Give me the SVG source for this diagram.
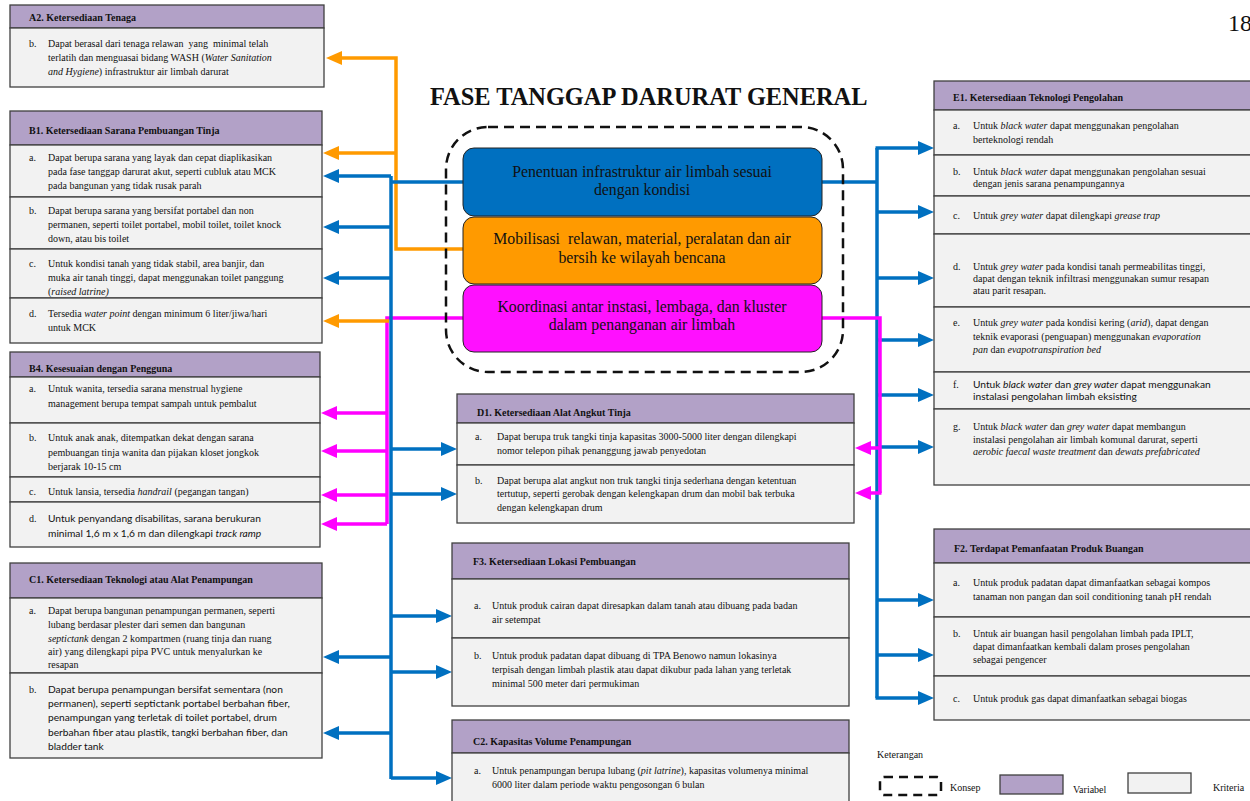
<svg xmlns="http://www.w3.org/2000/svg" width="1250" height="801" viewBox="0 0 1250 801">
<style>
.hdr{fill:#B2A1C7;stroke:#404040;stroke-width:1.3}
.crit{fill:#F2F2F2;stroke:#404040;stroke-width:1.3}
.t{font-family:"Liberation Serif",serif;font-size:10px;fill:#111}
.h{font-weight:bold}
.s{font-family:Lato,"Liberation Sans",sans-serif;font-size:10.2px}
.i{font-style:italic}
.ctr{font-family:"Liberation Serif",serif;font-size:15.8px;fill:#111;text-anchor:middle}
.cb{stroke:#0070C0;fill:none;stroke-width:3.5}
.co{stroke:#FF9A00;fill:none;stroke-width:3.5}
.cm{stroke:#FF00FF;fill:none;stroke-width:3.5}
</style>
<defs>
<marker id="ab" markerUnits="userSpaceOnUse" markerWidth="16" markerHeight="14" viewBox="0 0 16 14" refX="6" refY="7" orient="auto"><path d="M0,0 L16,7 L0,14 z" fill="#0070C0"/></marker>
<marker id="ao" markerUnits="userSpaceOnUse" markerWidth="16" markerHeight="14" viewBox="0 0 16 14" refX="6" refY="7" orient="auto"><path d="M0,0 L16,7 L0,14 z" fill="#FF9A00"/></marker>
<marker id="am" markerUnits="userSpaceOnUse" markerWidth="16" markerHeight="14" viewBox="0 0 16 14" refX="6" refY="7" orient="auto"><path d="M0,0 L16,7 L0,14 z" fill="#FF00FF"/></marker>
</defs>
<rect width="1250" height="801" fill="#fff"/>

<text x="1228" y="31" font-family="Liberation Serif,serif" font-size="24" fill="#111">18</text>
<text x="430" y="105" font-family="Liberation Serif,serif" font-size="24.4" font-weight="bold" fill="#111">FASE TANGGAP DARURAT GENERAL</text>

<g id="connectors">
<path class="cm" d="M463,318 H387 V524"/>
<path class="cm" d="M387,413 H331" marker-end="url(#am)"/>
<path class="cm" d="M387,451 H331" marker-end="url(#am)"/>
<path class="cm" d="M387,495 H331" marker-end="url(#am)"/>
<path class="cm" d="M387,524 H331" marker-end="url(#am)"/>
<path class="co" d="M463,249 H396 V58 H336" marker-end="url(#ao)"/>
<path class="co" d="M396,153 H333" marker-end="url(#ao)"/>
<path class="co" d="M389,321 H333" marker-end="url(#ao)"/>
<path class="cb" d="M463,182 H391"/>
<path class="cb" d="M391,176 V779" stroke-width="5"/>
<path class="cb" d="M391,176 H333" marker-end="url(#ab)"/>
<path class="cb" d="M391,227 H333" marker-end="url(#ab)"/>
<path class="cb" d="M391,278 H333" marker-end="url(#ab)"/>
<path class="cb" d="M391,657 H333" marker-end="url(#ab)"/>
<path class="cb" d="M391,733 H333" marker-end="url(#ab)"/>
<path class="cb" d="M391,449 H447" marker-end="url(#ab)"/>
<path class="cb" d="M391,494 H447" marker-end="url(#ab)"/>
<path class="cb" d="M391,616 H442" marker-end="url(#ab)"/>
<path class="cb" d="M391,672 H442" marker-end="url(#ab)"/>
<path class="cb" d="M391,778 H442" marker-end="url(#ab)"/>
<path class="cb" d="M822,182 H877"/>
<path class="cb" d="M877,148 V698"/>
<path class="cb" d="M875.5,148 H924" marker-end="url(#ab)"/>
<path class="cb" d="M877,212 H924" marker-end="url(#ab)"/>
<path class="cb" d="M877,278 H924" marker-end="url(#ab)"/>
<path class="cb" d="M877,340 H924" marker-end="url(#ab)"/>
<path class="cb" d="M877,395 H924" marker-end="url(#ab)"/>
<path class="cb" d="M877,447 H924" marker-end="url(#ab)"/>
<path class="cb" d="M877,600 H924" marker-end="url(#ab)"/>
<path class="cb" d="M877,655 H924" marker-end="url(#ab)"/>
<path class="cb" d="M875.5,698 H924" marker-end="url(#ab)"/>
<path class="cm" d="M822,318 H880 V493"/>
<path class="cm" d="M880,448 H865" marker-end="url(#am)"/>
<path class="cm" d="M881.5,493 H865" marker-end="url(#am)"/>
</g>

<g id="konsep">
<rect x="446" y="127" width="397" height="245" rx="42" fill="none" stroke="#111" stroke-width="2.5" stroke-dasharray="10,6"/>
</g>
<g id="n-penentuan">
<rect x="463" y="148" width="359" height="68" rx="11" fill="#0070C0" stroke="#222" stroke-width="1"/>
<text class="ctr" x="642" y="177">Penentuan infrastruktur air limbah sesuai</text>
<text class="ctr" x="642" y="195">dengan kondisi</text>
</g>
<g id="n-mobilisasi">
<rect x="463" y="217" width="359" height="67" rx="11" fill="#FF9A00" stroke="#222" stroke-width="1"/>
<text class="ctr" x="642" y="244" xml:space="preserve">Mobilisasi  relawan, material, peralatan dan air</text>
<text class="ctr" x="642" y="263">bersih ke wilayah bencana</text>
</g>
<g id="n-koordinasi">
<rect x="463" y="285" width="359" height="67" rx="11" fill="#FF10FF" stroke="#222" stroke-width="1"/>
<text class="ctr" x="642" y="312">Koordinasi antar instasi, lembaga, dan kluster</text>
<text class="ctr" x="642" y="330">dalam penanganan air limbah</text>
</g>

<g id="n-a2">
<rect class="hdr" x="10" y="5" width="314" height="23"/>
<rect class="crit" x="10" y="28" width="314" height="59"/>
<text class="t h" x="29" y="21">A2. Ketersediaan Tenaga</text>
<text class="t" x="29" y="47">b.</text>
<text class="t" x="48" y="47" xml:space="preserve">Dapat berasal dari tenaga relawan  yang  minimal telah</text>
<text class="t" x="48" y="61">terlatih dan menguasai bidang WASH (<tspan class="i">Water Sanitation</tspan></text>
<text class="t" x="48" y="75"><tspan class="i">and Hygiene</tspan>) infrastruktur air limbah darurat</text>
</g>

<g id="n-b1">
<rect class="hdr" x="10" y="111" width="312" height="34"/>
<rect class="crit" x="10" y="145" width="312" height="52"/>
<rect class="crit" x="10" y="197" width="312" height="52"/>
<rect class="crit" x="10" y="249" width="312" height="49"/>
<rect class="crit" x="10" y="298" width="312" height="45"/>
<text class="t h" x="29" y="134">B1. Ketersediaan Sarana Pembuangan Tinja</text>
<text class="t" x="29" y="161">a.</text>
<text class="t" x="48" y="161">Dapat berupa sarana yang layak dan cepat diaplikasikan</text>
<text class="t" x="48" y="175">pada fase tanggap darurat akut, seperti cubluk atau MCK</text>
<text class="t" x="48" y="189">pada bangunan yang tidak rusak parah</text>
<text class="t" x="29" y="214">b.</text>
<text class="t" x="48" y="214">Dapat berupa sarana yang bersifat portabel dan non</text>
<text class="t" x="48" y="228">permanen, seperti toilet portabel, mobil toilet, toilet knock</text>
<text class="t" x="48" y="242">down, atau bis toilet</text>
<text class="t" x="29" y="267">c.</text>
<text class="t" x="48" y="267">Untuk kondisi tanah yang tidak stabil, area banjir, dan</text>
<text class="t" x="48" y="281">muka air tanah tinggi, dapat menggunakan toilet panggung</text>
<text class="t" x="48" y="295">(<tspan class="i">raised latrine)</tspan></text>
<text class="t" x="29" y="317">d.</text>
<text class="t" x="48" y="317">Tersedia <tspan class="i">water point</tspan> dengan minimum 6 liter/jiwa/hari</text>
<text class="t" x="48" y="331">untuk MCK</text>
</g>

<g id="n-b4">
<rect class="hdr" x="10" y="352" width="310" height="25"/>
<rect class="crit" x="10" y="377" width="310" height="46"/>
<rect class="crit" x="10" y="423" width="310" height="54"/>
<rect class="crit" x="10" y="477" width="310" height="25"/>
<rect class="crit" x="10" y="502" width="310" height="45"/>
<text class="t h" x="29" y="372">B4. Kesesuaian dengan Pengguna</text>
<text class="t" x="29" y="392">a.</text>
<text class="t" x="48" y="392">Untuk wanita, tersedia sarana menstrual hygiene</text>
<text class="t" x="48" y="407">management berupa tempat sampah untuk pembalut</text>
<text class="t" x="29" y="441">b.</text>
<text class="t" x="48" y="441">Untuk anak anak, ditempatkan dekat dengan sarana</text>
<text class="t" x="48" y="456">pembuangan tinja wanita dan pijakan kloset jongkok</text>
<text class="t" x="48" y="470">berjarak 10-15 cm</text>
<text class="t" x="29" y="495">c.</text>
<text class="t" x="48" y="495">Untuk lansia, tersedia <tspan class="i">handrail</tspan> (pegangan tangan)</text>
<text class="t" x="29" y="522">d.</text>
<text class="t s" x="48" y="522">Untuk penyandang disabilitas, sarana berukuran</text>
<text class="t s" x="48" y="537">minimal 1,6 m x 1,6 m dan dilengkapi <tspan class="i">track ramp</tspan></text>
</g>

<g id="n-c1">
<rect class="hdr" x="10" y="563" width="312" height="35"/>
<rect class="crit" x="10" y="598" width="312" height="75"/>
<rect class="crit" x="10" y="673" width="312" height="85"/>
<text class="t h" x="29" y="583">C1. Ketersediaan Teknologi atau Alat Penampungan</text>
<text class="t" x="29" y="614">a.</text>
<text class="t" x="48" y="614">Dapat berupa bangunan penampungan permanen, seperti</text>
<text class="t" x="48" y="628">lubang berdasar plester dari semen dan bangunan</text>
<text class="t" x="48" y="642"><tspan class="i">septictank</tspan> dengan 2 kompartmen (ruang tinja dan ruang</text>
<text class="t" x="48" y="655">air) yang dilengkapi pipa PVC untuk menyalurkan ke</text>
<text class="t" x="48" y="668">resapan</text>
<text class="t" x="29" y="693">b.</text>
<text class="t s" x="48" y="693">Dapat berupa penampungan bersifat sementara (non</text>
<text class="t s" x="48" y="707">permanen), seperti septictank portabel berbahan fiber,</text>
<text class="t s" x="48" y="721">penampungan yang terletak di toilet portabel, drum</text>
<text class="t s" x="48" y="736">berbahan fiber atau plastik, tangki berbahan fiber, dan</text>
<text class="t s" x="48" y="750">bladder tank</text>
</g>

<g id="n-d1">
<rect class="hdr" x="457" y="394" width="397" height="29"/>
<rect class="crit" x="457" y="423" width="397" height="42"/>
<rect class="crit" x="457" y="465" width="397" height="58"/>
<text class="t h" x="477" y="416">D1. Ketersediaan Alat Angkut Tinja</text>
<text class="t" x="475" y="440">a.</text>
<text class="t" x="497" y="440">Dapat berupa truk tangki tinja kapasitas 3000-5000 liter dengan dilengkapi</text>
<text class="t" x="497" y="454">nomor telepon pihak penanggung jawab penyedotan</text>
<text class="t" x="475" y="484">b.</text>
<text class="t" x="497" y="484">Dapat berupa alat angkut non truk tangki tinja sederhana dengan ketentuan</text>
<text class="t" x="497" y="497">tertutup, seperti gerobak dengan kelengkapan drum dan mobil bak terbuka</text>
<text class="t" x="497" y="511">dengan kelengkapan drum</text>
</g>

<g id="n-f3">
<rect class="hdr" x="452" y="543" width="397" height="36"/>
<rect class="crit" x="452" y="579" width="397" height="59"/>
<rect class="crit" x="452" y="638" width="397" height="68"/>
<text class="t h" x="473" y="565">F3. Ketersediaan Lokasi Pembuangan</text>
<text class="t" x="474" y="609">a.</text>
<text class="t" x="492" y="609">Untuk produk cairan dapat diresapkan dalam tanah atau dibuang pada badan</text>
<text class="t" x="492" y="623">air setempat</text>
<text class="t" x="474" y="659">b.</text>
<text class="t" x="492" y="659">Untuk produk padatan dapat dibuang di TPA Benowo namun lokasinya</text>
<text class="t" x="492" y="673">terpisah dengan limbah plastik atau dapat dikubur pada lahan yang terletak</text>
<text class="t" x="492" y="687">minimal 500 meter dari permukiman</text>
</g>

<g id="n-c2">
<rect class="hdr" x="452" y="720" width="397" height="33"/>
<rect class="crit" x="452" y="753" width="397" height="60"/>
<text class="t h" x="473" y="745">C2. Kapasitas Volume Penampungan</text>
<text class="t" x="474" y="774">a.</text>
<text class="t" x="492" y="774">Untuk penampungan berupa lubang (<tspan class="i">pit latrine</tspan>), kapasitas volumenya minimal</text>
<text class="t" x="492" y="788">6000 liter dalam periode waktu pengosongan 6 bulan</text>
</g>

<g id="n-e1">
<rect class="hdr" x="934" y="81" width="330" height="29"/>
<rect class="crit" x="934" y="110" width="330" height="45"/>
<rect class="crit" x="934" y="155" width="330" height="41"/>
<rect class="crit" x="934" y="196" width="330" height="38"/>
<rect class="crit" x="934" y="234" width="330" height="73"/>
<rect class="crit" x="934" y="307" width="330" height="65"/>
<rect class="crit" x="934" y="372" width="330" height="37"/>
<rect class="crit" x="934" y="409" width="330" height="76"/>
<text class="t h" x="953" y="101">E1. Ketersediaan Teknologi Pengolahan</text>
<text class="t" x="953" y="129">a.</text>
<text class="t" x="973" y="129">Untuk <tspan class="i">black water</tspan> dapat menggunakan pengolahan</text>
<text class="t" x="973" y="143">berteknologi rendah</text>
<text class="t" x="953" y="175">b.</text>
<text class="t" x="973" y="175">Untuk <tspan class="i">black water</tspan> dapat menggunakan pengolahan sesuai</text>
<text class="t" x="973" y="187">dengan jenis sarana penampungannya</text>
<text class="t" x="953" y="219">c.</text>
<text class="t" x="973" y="219">Untuk <tspan class="i">grey water</tspan> dapat dilengkapi <tspan class="i">grease trap</tspan></text>
<text class="t" x="953" y="270">d.</text>
<text class="t" x="973" y="270">Untuk <tspan class="i">grey water</tspan> pada kondisi tanah permeabilitas tinggi,</text>
<text class="t" x="973" y="282">dapat dengan teknik infiltrasi menggunakan sumur resapan</text>
<text class="t" x="973" y="294">atau parit resapan.</text>
<text class="t" x="953" y="326">e.</text>
<text class="t" x="973" y="326">Untuk <tspan class="i">grey water</tspan> pada kondisi kering (<tspan class="i">arid</tspan>), dapat dengan</text>
<text class="t" x="973" y="340">teknik evaporasi (penguapan) menggunakan <tspan class="i">evaporation</tspan></text>
<text class="t" x="973" y="353"><tspan class="i">pan</tspan> dan <tspan class="i">evapotranspiration bed</tspan></text>
<text class="t" x="953" y="388">f.</text>
<text class="t s" x="973" y="388">Untuk <tspan class="i">black water</tspan> dan <tspan class="i">grey water</tspan> dapat menggunakan</text>
<text class="t s" x="973" y="400">instalasi pengolahan limbah eksisting</text>
<text class="t" x="953" y="430">g.</text>
<text class="t" x="973" y="430">Untuk <tspan class="i">black water</tspan> dan <tspan class="i">grey water</tspan> dapat membangun</text>
<text class="t" x="973" y="443">instalasi pengolahan air limbah komunal darurat, seperti</text>
<text class="t" x="973" y="455"><tspan class="i">aerobic faecal waste treatment</tspan> dan <tspan class="i">dewats prefabricated</tspan></text>
</g>

<g id="n-f2">
<rect class="hdr" x="934" y="529" width="330" height="34"/>
<rect class="crit" x="934" y="563" width="330" height="54"/>
<rect class="crit" x="934" y="617" width="330" height="59"/>
<rect class="crit" x="934" y="676" width="330" height="44"/>
<text class="t h" x="954" y="552">F2. Terdapat Pemanfaatan Produk Buangan</text>
<text class="t" x="953" y="586">a.</text>
<text class="t" x="973" y="586">Untuk produk padatan dapat dimanfaatkan sebagai kompos</text>
<text class="t" x="973" y="600">tanaman non pangan dan soil conditioning tanah pH rendah</text>
<text class="t" x="953" y="637">b.</text>
<text class="t" x="973" y="637">Untuk air buangan hasil pengolahan limbah pada IPLT,</text>
<text class="t" x="973" y="650">dapat dimanfaatkan kembali dalam proses pengolahan</text>
<text class="t" x="973" y="663">sebagai pengencer</text>
<text class="t" x="953" y="702">c.</text>
<text class="t" x="973" y="702">Untuk produk gas dapat dimanfaatkan sebagai biogas</text>
</g>

<g id="legend">
<text class="t" x="877" y="758">Keterangan</text>
<rect x="880" y="777" width="61" height="18" rx="4" fill="none" stroke="#111" stroke-width="2.5" stroke-dasharray="9,6"/>
<text class="t" x="950" y="791">Konsep</text>
<rect class="hdr" x="1000" y="775" width="63" height="19"/>
<text class="t" x="1073" y="793">Variabel</text>
<rect class="crit" x="1128" y="773" width="63" height="20"/>
<text class="t" x="1213" y="791">Kriteria</text>
</g>
</svg>
